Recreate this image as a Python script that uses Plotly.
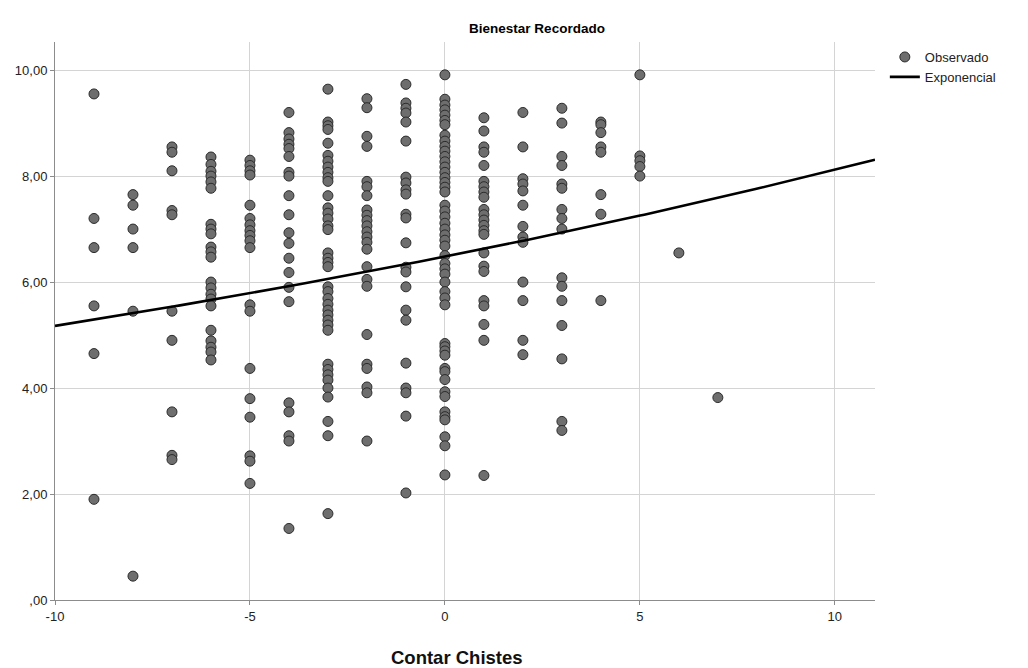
import numpy as np
import plotly.graph_objects as go

# Contar Chistes score -> recorded wellbeing values observed at that score
chistes_scores = [-9, -8, -7, -6, -5, -4, -3, -2, -1, 0, 1, 2, 3, 4, 5, 6, 7]

bienestar_m9 = [9.55, 7.2, 6.65, 5.55, 4.65, 1.9]
bienestar_m8 = [7.65, 7.45, 7.0, 6.65, 5.45, 0.45]
bienestar_m7 = [8.55, 8.45, 8.1, 7.35, 7.27, 5.45, 4.9, 3.55, 2.73, 2.65]
bienestar_m6 = [8.36, 8.22, 8.09, 8.0, 7.89, 7.77, 7.09, 7.0, 6.91, 6.66, 6.57, 6.47,
                6.0, 5.89, 5.77, 5.68, 5.55, 5.09, 4.89, 4.77, 4.68, 4.53]
bienestar_m5 = [8.3, 8.2, 8.1, 8.02, 7.45, 7.2, 7.08, 6.97, 6.88, 6.78, 6.65, 5.57, 5.45,
                4.37, 3.8, 3.45, 2.72, 2.62, 2.2]
bienestar_m4 = [9.2, 8.82, 8.7, 8.6, 8.52, 8.37, 8.07, 8.0, 7.63, 7.27, 6.93, 6.73, 6.45,
                6.18, 5.9, 5.63, 3.72, 3.55, 3.1, 3.0, 1.35]
bienestar_m3 = [9.64, 9.02, 8.95, 8.88, 8.62, 8.39, 8.28, 8.17, 8.07, 7.97, 7.9, 7.63, 7.4,
                7.3, 7.19, 7.06, 6.99, 6.55, 6.45, 6.37, 6.29, 5.91, 5.82, 5.69, 5.58, 5.47,
                5.38, 5.28, 5.19, 5.09, 4.45, 4.35, 4.25, 4.15, 4.0, 3.83, 3.37, 3.1, 1.63]
bienestar_m2 = [9.46, 9.29, 8.75, 8.56, 7.9, 7.8, 7.63, 7.36, 7.26, 7.16, 7.06, 6.95, 6.85,
                6.75, 6.62, 6.29, 6.05, 5.92, 5.01, 4.45, 4.37, 4.02, 3.91, 3.0]
bienestar_m1 = [9.73, 9.38, 9.28, 9.19, 9.02, 8.66, 7.98, 7.87, 7.74, 7.66, 7.28, 7.21, 6.74,
                6.28, 6.19, 5.91, 5.47, 5.28, 4.47, 4.0, 3.91, 3.47, 2.02]
bienestar_0 = [9.91, 9.45, 9.34, 9.25, 9.15, 9.05, 8.97, 8.77, 8.66, 8.56, 8.47, 8.37, 8.27,
               8.17, 8.07, 7.97, 7.88, 7.79, 7.7, 7.45, 7.34, 7.23, 7.11, 7.0, 6.89, 6.79,
               6.68, 6.5, 6.35, 6.25, 6.15, 6.0, 5.82, 5.7, 5.57, 4.84, 4.78, 4.7, 4.62,
               4.37, 4.31, 4.16, 3.93, 3.84, 3.55, 3.46, 3.4, 3.08, 2.91, 2.36]
bienestar_1 = [9.1, 8.85, 8.55, 8.45, 8.2, 7.9, 7.8, 7.7, 7.6, 7.37, 7.27, 7.17, 7.07, 6.97,
               6.9, 6.55, 6.3, 6.2, 5.65, 5.55, 5.2, 4.9, 2.35]
bienestar_2 = [9.2, 8.55, 7.95, 7.85, 7.72, 7.45, 7.05, 6.85, 6.75, 6.0, 5.65, 4.9, 4.63]
bienestar_3 = [9.28, 9.0, 8.37, 8.2, 7.85, 7.77, 7.37, 7.2, 7.0, 6.08, 5.92, 5.65, 5.18,
               4.55, 3.37, 3.2]
bienestar_4 = [9.02, 8.97, 8.82, 8.55, 8.45, 7.65, 7.28, 5.65]
bienestar_5 = [9.91, 8.38, 8.29, 8.18, 8.0]
bienestar_6 = [6.55]
bienestar_7 = [3.82]

bienestar_by_score = [bienestar_m9, bienestar_m8, bienestar_m7, bienestar_m6, bienestar_m5,
                      bienestar_m4, bienestar_m3, bienestar_m2, bienestar_m1, bienestar_0,
                      bienestar_1, bienestar_2, bienestar_3, bienestar_4, bienestar_5,
                      bienestar_6, bienestar_7]

# exponential model summary: y = constante * exp(b1 * x)
exp_constante = 6.48
exp_b1 = 0.02254

x_tick_vals = [-10, -5, 0, 5, 10]
x_tick_text = ["-10", "-5", "0", "5", "10"]
y_tick_vals = [0, 2, 4, 6, 8, 10]
y_tick_text = [",00", "2,00", "4,00", "6,00", "8,00", "10,00"]

# flatten into observation pairs
obs_x = [s for s, vals in zip(chistes_scores, bienestar_by_score) for _ in vals]
obs_y = [v for vals in bienestar_by_score for v in vals]

x_range = (-10, 11.03)
curve_x = np.linspace(x_range[0], x_range[1], 200)
curve_y = exp_constante * np.exp(exp_b1 * curve_x)

FONT = "Liberation Sans, Arial, sans-serif"
GRID = "#d4d4d4"
AXIS = "#8c8c8c"

fig = go.Figure()
fig.add_trace(go.Scatter(
    x=obs_x, y=obs_y, mode="markers", name="Observado",
    marker=dict(size=10, color="#6e6e6e", line=dict(color="#2b2b2b", width=1)),
    cliponaxis=False,
))
fig.add_trace(go.Scatter(
    x=curve_x, y=curve_y, mode="lines", name="Exponencial",
    line=dict(color="#000000", width=2.6),
))

fig.update_layout(
    width=1028, height=668,
    margin=dict(l=55, r=153, t=42, b=68, autoexpand=False),
    paper_bgcolor="white", plot_bgcolor="white",
    font=dict(family=FONT, size=13, color="#222222"),
    title=dict(text="<b>Bienestar Recordado</b>", x=(537 - 55) / 820, xanchor="center",
               xref="paper", y=1 - 28 / 668, yanchor="middle",
               font=dict(size=13.5, color="#000000")),
    legend=dict(x=1.012, y=1.0, xanchor="left", yanchor="top",
                font=dict(size=13, color="#222222"), bgcolor="rgba(0,0,0,0)",
                tracegroupgap=0, itemwidth=30),
    showlegend=True,
    annotations=[dict(
        text="<b>Contar Chistes</b>", x=(457 - 55) / 820, xref="paper",
        y=-(657 - 600) / 558, yref="paper", xanchor="center", yanchor="middle",
        showarrow=False, font=dict(size=18.5, color="#111111"),
    )],
)
fig.update_xaxes(
    range=list(x_range), tickvals=x_tick_vals, ticktext=x_tick_text,
    showgrid=True, gridcolor=GRID, gridwidth=1, automargin=False,
    showline=True, linecolor=AXIS, linewidth=1, zeroline=False,
    ticks="outside", ticklen=4, tickcolor=AXIS,
    tickfont=dict(size=13, color="#222222"),
)
fig.update_yaxes(
    range=[0, 10.53], tickvals=y_tick_vals, ticktext=y_tick_text,
    showgrid=True, gridcolor=GRID, gridwidth=1, automargin=False,
    showline=True, linecolor=AXIS, linewidth=1, zeroline=False,
    ticks="outside", ticklen=4, tickcolor=AXIS,
    tickfont=dict(size=13, color="#222222"),
)

fig.write_html("out.html")
